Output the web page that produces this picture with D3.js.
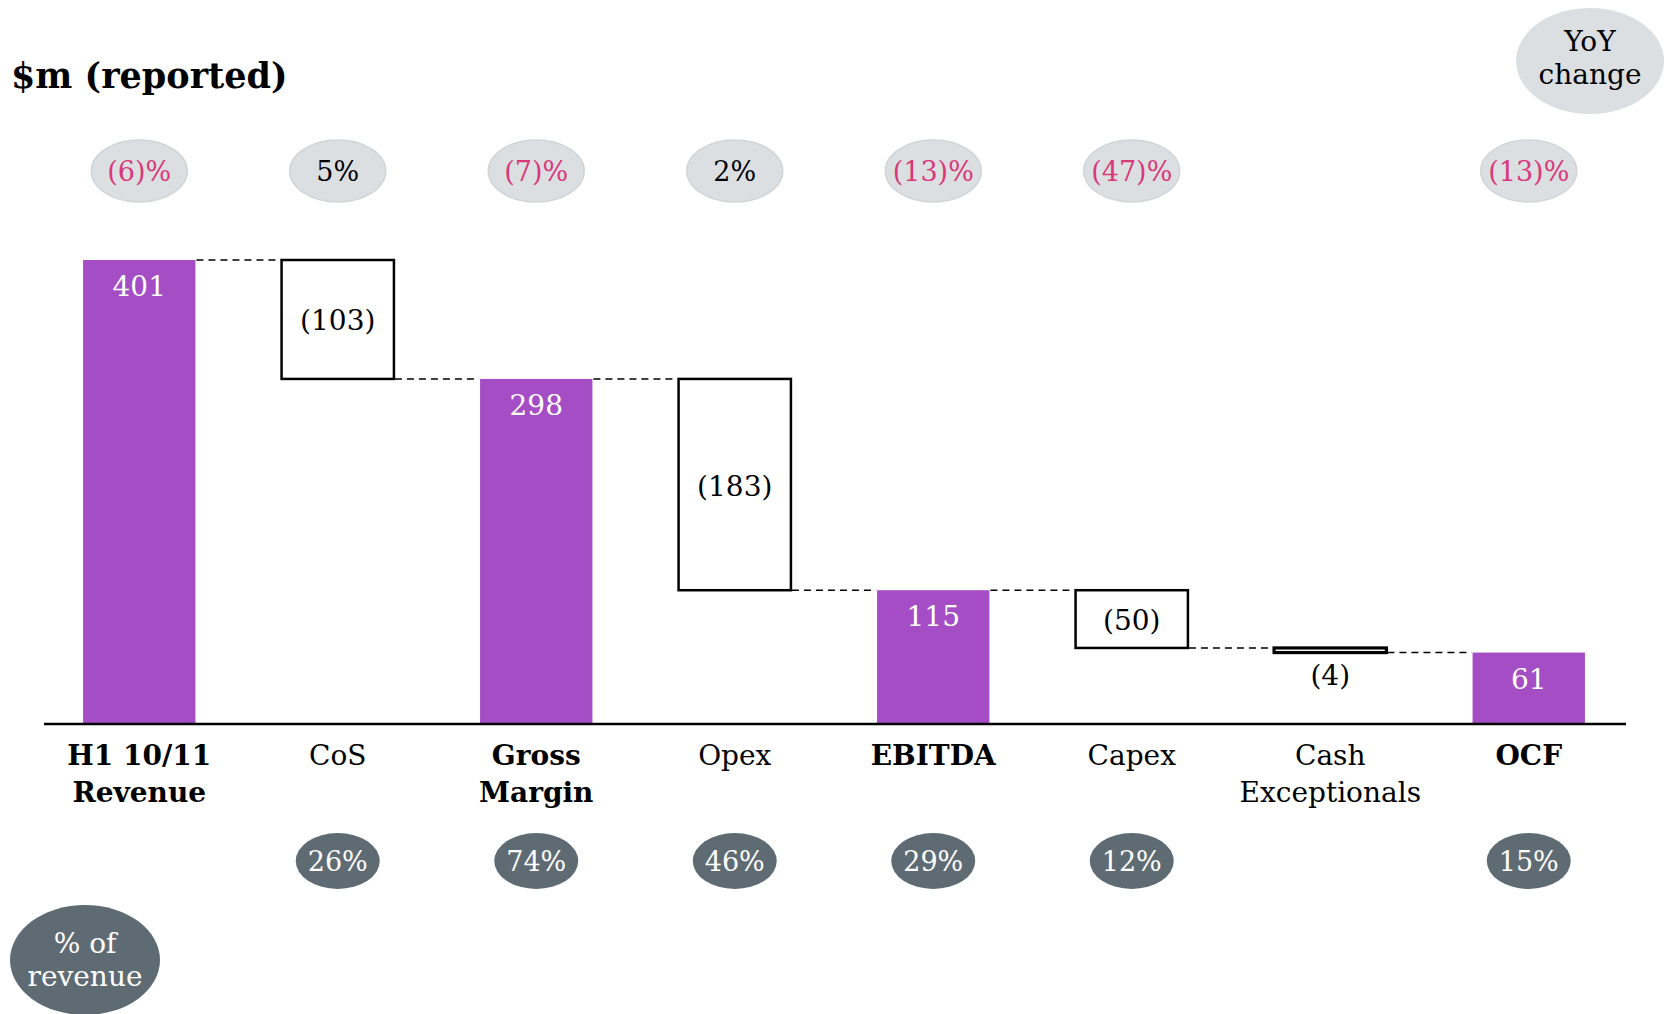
<!DOCTYPE html>
<html>
<head>
<meta charset="utf-8">
<script src="https://cdn.jsdelivr.net/npm/d3@7/dist/d3.min.js"></script>
<style>
  html, body { margin: 0; padding: 0; background: #ffffff; }
  svg { display: block; }
  text { font-family: "DejaVu Serif", "Liberation Serif", serif; }
</style>
</head>
<body>
<svg id="chart" width="1665" height="1014"></svg>
<script>
// Waterfall: H1 10/11 revenue down to operating cash flow ($m, reported)
const categories = ["H1 10/11 Revenue", "CoS", "Gross Margin", "Opex", "EBITDA", "Capex", "Cash Exceptionals", "OCF"];
const labelLines = [["H1 10/11", "Revenue"], ["CoS"], ["Gross", "Margin"], ["Opex"], ["EBITDA"], ["Capex"], ["Cash", "Exceptionals"], ["OCF"]];
const values = [401, -103, 298, -183, 115, -50, -4, 61];
const kinds = ["total", "step", "total", "step", "total", "step", "step", "total"];
const yoyChange = ["(6)%", "5%", "(7)%", "2%", "(13)%", "(47)%", null, "(13)%"];
const pctOfRevenue = [null, "26%", "74%", "46%", "29%", "12%", null, "15%"];

const colors = {
  bar: "#a54dc4",
  negative: "#d9387b",
  yoyFill: "#dcdfe2",
  yoyStroke: "#d2d5d8",
  pctFill: "#5f6b73",
  ink: "#000000"
};

const svg = d3.select("#chart");
const fs = 28;

const x = d3.scaleBand()
  .domain(categories)
  .range([40, 1628])
  .paddingInner(0.434)
  .paddingOuter(0.217);

const y = d3.scaleLinear()
  .domain([0, 401])
  .range([723, 260]);

// running totals: each step hangs from the previous level
let level = 0;
const rows = categories.map((c, i) => {
  const v = values[i];
  let lo, hi;
  if (kinds[i] === "total") {
    lo = 0; hi = v; level = v;
  } else {
    hi = level; lo = level + v; level = lo;
  }
  return { cat: c, i, v, lo, hi, kind: kinds[i], end: level };
});

// dashed connectors between neighbouring columns
const links = rows.slice(0, -1).map((r, i) => ({
  x1: x(r.cat) + x.bandwidth(),
  x2: x(rows[i + 1].cat),
  level: r.end
}));

svg.append("g").selectAll("line").data(links).join("line")
  .attr("x1", d => d.x1 + 1)
  .attr("x2", d => d.x2 - 1)
  .attr("y1", d => y(d.level))
  .attr("y2", d => y(d.level))
  .attr("stroke", colors.ink)
  .attr("stroke-width", 1.6)
  .attr("stroke-dasharray", "7,5");

// totals as solid bars, steps as outlined boxes
const g = svg.append("g");
g.selectAll("rect.total").data(rows.filter(r => r.kind === "total")).join("rect")
  .attr("class", "total")
  .attr("x", d => x(d.cat))
  .attr("width", x.bandwidth())
  .attr("y", d => y(d.hi))
  .attr("height", d => y(d.lo) - y(d.hi))
  .attr("fill", colors.bar);

g.selectAll("rect.step").data(rows.filter(r => r.kind === "step")).join("rect")
  .attr("class", "step")
  .attr("x", d => x(d.cat))
  .attr("width", x.bandwidth())
  .attr("y", d => y(d.hi))
  .attr("height", d => y(d.lo) - y(d.hi))
  .attr("fill", "#ffffff")
  .attr("stroke", colors.ink)
  .attr("stroke-width", d => (y(d.lo) - y(d.hi)) < 10 ? 3.2 : 2.5);

// value labels
const fmt = v => v < 0 ? "(" + Math.abs(v) + ")" : String(v);
g.selectAll("text.val").data(rows).join("text")
  .attr("class", "val")
  .attr("x", d => x(d.cat) + x.bandwidth() / 2)
  .attr("y", d => {
    if (d.kind === "total") return y(d.hi) + 36;
    const h = y(d.lo) - y(d.hi);
    if (h < 30) return y(d.lo) + 32;
    return (y(d.lo) + y(d.hi)) / 2 + 11;
  })
  .attr("text-anchor", "middle")
  .attr("font-size", fs)
  .attr("fill", d => d.kind === "total" ? "#ffffff" : colors.ink)
  .text(d => fmt(d.v));

// baseline
svg.append("line")
  .attr("x1", 44).attr("x2", 1626)
  .attr("y1", y(0) + 1).attr("y2", y(0) + 1)
  .attr("stroke", colors.ink)
  .attr("stroke-width", 2.5);

// category labels
const cats = svg.append("g").selectAll("text").data(rows).join("text")
  .attr("x", d => x(d.cat) + x.bandwidth() / 2)
  .attr("y", 765)
  .attr("text-anchor", "middle")
  .attr("font-size", fs)
  .attr("font-weight", d => d.kind === "total" ? "bold" : "normal")
  .attr("fill", colors.ink);
cats.selectAll("tspan").data(d => labelLines[d.i].map(t => ({ t, cx: x(d.cat) + x.bandwidth() / 2 }))).join("tspan")
  .attr("x", d => d.cx)
  .attr("dy", (d, j) => j === 0 ? 0 : 37)
  .text(d => d.t);

// YoY change bubbles
const yoy = svg.append("g").selectAll("g").data(rows.filter(r => yoyChange[r.i])).join("g")
  .attr("transform", d => `translate(${x(d.cat) + x.bandwidth() / 2},171)`);
yoy.append("ellipse")
  .attr("rx", 48).attr("ry", 31)
  .attr("fill", colors.yoyFill)
  .attr("stroke", colors.yoyStroke)
  .attr("stroke-width", 1.5);
yoy.append("text")
  .attr("y", 10)
  .attr("text-anchor", "middle")
  .attr("font-size", 27)
  .attr("fill", d => yoyChange[d.i].startsWith("(") ? colors.negative : colors.ink)
  .text(d => yoyChange[d.i]);

// % of revenue bubbles
const pct = svg.append("g").selectAll("g").data(rows.filter(r => pctOfRevenue[r.i])).join("g")
  .attr("transform", d => `translate(${x(d.cat) + x.bandwidth() / 2},861)`);
pct.append("ellipse")
  .attr("rx", 42).attr("ry", 28)
  .attr("fill", colors.pctFill);
pct.append("text")
  .attr("y", 10)
  .attr("text-anchor", "middle")
  .attr("font-size", 27)
  .attr("fill", "#ffffff")
  .text(d => pctOfRevenue[d.i]);

// title
svg.append("text")
  .attr("x", 11).attr("y", 88)
  .attr("font-size", 35)
  .attr("font-weight", "bold")
  .attr("fill", colors.ink)
  .text("$m (reported)");

// row keys
const yoyKey = svg.append("g").attr("transform", "translate(1590,61)");
yoyKey.append("ellipse").attr("rx", 74).attr("ry", 53).attr("fill", colors.yoyFill);
yoyKey.append("text").attr("text-anchor", "middle").attr("font-size", fs).attr("fill", colors.ink)
  .selectAll("tspan").data(["YoY", "change"]).join("tspan")
  .attr("x", 0).attr("y", (d, j) => j === 0 ? -10 : 23).text(d => d);

const pctKey = svg.append("g").attr("transform", "translate(85,960)");
pctKey.append("ellipse").attr("rx", 75).attr("ry", 55).attr("fill", colors.pctFill);
pctKey.append("text").attr("text-anchor", "middle").attr("font-size", fs).attr("fill", "#ffffff")
  .selectAll("tspan").data(["% of", "revenue"]).join("tspan")
  .attr("x", 0).attr("y", (d, j) => j === 0 ? -7 : 26).text(d => d);
</script>
</body>
</html>
